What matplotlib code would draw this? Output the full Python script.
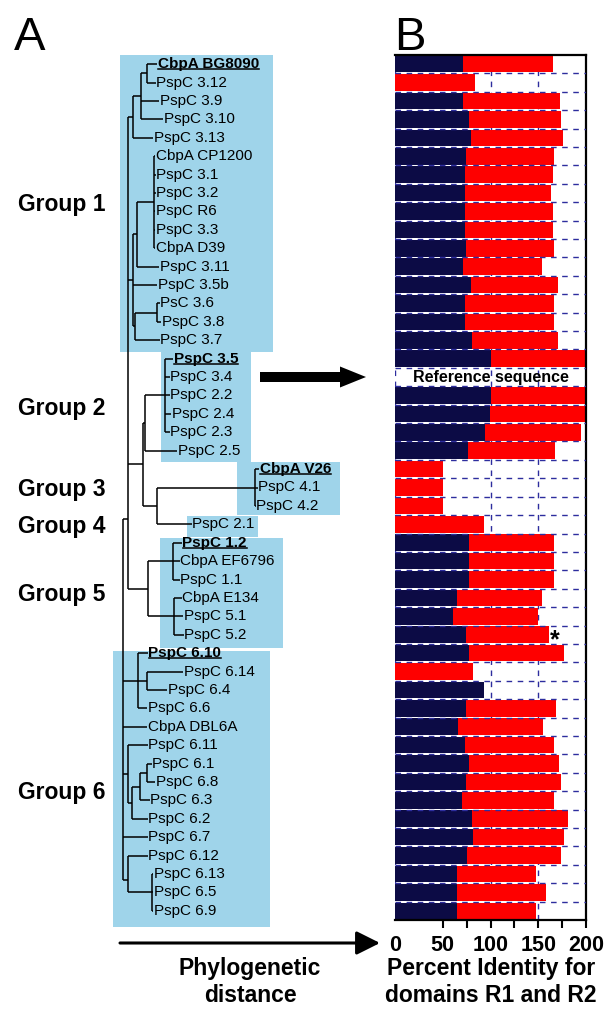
import matplotlib
matplotlib.use('Agg')
import matplotlib.pyplot as plt
import numpy as np
from matplotlib.patches import Rectangle, FancyArrow
from matplotlib.lines import Line2D

plt.rcParams['font.family'] = ['Liberation Sans', 'DejaVu Sans']

# ---------------- data ----------------
leaf_labels = [
    'CbpA BG8090', 'PspC 3.12', 'PspC 3.9', 'PspC 3.10', 'PspC 3.13', 'CbpA CP1200',
    'PspC 3.1', 'PspC 3.2', 'PspC R6', 'PspC 3.3', 'CbpA D39', 'PspC 3.11',
    'PspC 3.5b', 'PsC 3.6', 'PspC 3.8', 'PspC 3.7',
    'PspC 3.5', 'PspC 3.4', 'PspC 2.2', 'PspC 2.4', 'PspC 2.3', 'PspC 2.5',
    'CbpA V26', 'PspC 4.1', 'PspC 4.2',
    'PspC 2.1',
    'PspC 1.2', 'CbpA EF6796', 'PspC 1.1', 'CbpA E134', 'PspC 5.1', 'PspC 5.2',
    'PspC 6.10', 'PspC 6.14', 'PspC 6.4', 'PspC 6.6', 'CbpA DBL6A', 'PspC 6.11',
    'PspC 6.1', 'PspC 6.8', 'PspC 6.3', 'PspC 6.2', 'PspC 6.7', 'PspC 6.12',
    'PspC 6.13', 'PspC 6.5', 'PspC 6.9',
]
# tip positions (phylogenetic distance, arbitrary units)
leaf_tip = [
    157, 156, 159, 163, 153, 155, 156, 156, 155, 155, 155, 159, 157, 160, 161, 160,
    173, 170, 170, 171, 170, 177,
    259, 258, 256,
    192,
    182, 180, 180, 182, 183, 184,
    148, 183, 167, 147, 147, 148, 152, 155, 150, 148, 148, 148, 153, 153, 153,
]
reference_leaves = ['CbpA BG8090', 'PspC 3.5', 'CbpA V26', 'PspC 1.2', 'PspC 6.10']

# tree: (node distance, [children], optional joining row); ints are leaf indices
tree = (123, [
    (128, [
        (133, [(141, [(147, [0, 1]), 2, 3]), 4]),
        (133, [(137, [(154, [5, 6, 7, 8, 9, 10]), 11]), 12,
               (135, [(157, [13, 14]), 15])]),
        (143, [(145, [(165, [16, 17, 18, 19, 20]), 21]),
               (157, [(255, [22, 23, 24]), 25])]),
        (148, [(173, [26, 27, 28]), (174, [29, 30, 31])]),
    ], 24.7),
    (138, [32, (147, [33, 34]), 35]),
    36,
    (128, [37, (132, [(140, [(147, [38, 39]), 40]), 41])]),
    42,
    (128, [43, (152, [44, 45, 46])], 44.3),
])

group_names = ['Group 1', 'Group 2', 'Group 3', 'Group 4', 'Group 5', 'Group 6']
group_label_rows = [7.6, 18.7, 23.1, 25.1, 28.8, 39.55]
# shaded clade boxes: (x0, x1, row0, row1)
group_boxes = [(120, 273, -0.5, 15.64), (161, 251, 15.64, 21.6),
               (237, 340, 21.6, 24.5), (187, 258, 24.55, 25.7),
               (160, 283, 25.75, 31.7), (113, 270, 31.9, 46.9)]

# Percent identity: domain R1 (navy) and domain R2 (red), stacked
r1_identity = [71, 0, 71, 78, 80, 74, 73, 73, 73, 73, 74, 71, 80, 73, 73, 81,
               100, 0, 100, 99, 94, 76,
               0, 0, 0,
               0,
               77, 77, 77, 65, 61, 74,
               77, 0, 93, 74, 66, 73, 78, 74, 70, 81, 82, 75, 65, 65, 65]
r2_identity = [94, 84, 102, 96, 96, 92, 92, 90, 92, 92, 92, 83, 91, 94, 93, 90,
               100, 0, 100, 101, 101, 92,
               50, 50, 50,
               93,
               89, 89, 89, 89, 89, 87,
               100, 82, 0, 95, 89, 94, 94, 100, 97, 100, 95, 99, 83, 93, 83]
reference_row = 17
starred_row = 31
xticks_major = [0, 50, 100, 150, 200]
xticks_minor = [75, 125, 175]

# ---------------- figure ----------------
W, H = 608, 1009
fig = plt.figure(figsize=(W / 100, H / 100), dpi=100)
top_px, bot_px = 55, 920
ax_b = fig.add_axes([395 / W, 1 - bot_px / H, (586 - 395) / W, (bot_px - top_px) / H])
ax_t = fig.add_axes([0, 1 - bot_px / H, 380 / W, (bot_px - top_px) / H])
ax_o = fig.add_axes([0, 0, 1, 1])
ax_o.set_xlim(0, W); ax_o.set_ylim(H, 0); ax_o.axis('off')

navy = '#0c0b45'
red = '#fe0000'
dash_col = '#2d2d9e'
n = len(r1_identity)
rows = np.arange(n)
r1 = np.array(r1_identity, float)
r2 = np.array(r2_identity, float)

ax_b.barh(rows, r1, height=0.9, color=navy, zorder=2)
ax_b.barh(rows, r2, left=r1, height=0.9, color=red, zorder=2)
ax_b.set_xlim(0, 200)
ax_b.set_ylim(n - 0.5, -0.5)
for k in range(n - 1):
    ax_b.axhline(k + 0.5, color=dash_col, lw=1.0, ls=(0, (4, 4)), zorder=3)
for v in [0, 100, 150]:
    ax_b.axvline(v, color=dash_col, lw=1.0, ls=(0, (4, 4)), zorder=1)
ax_b.spines['left'].set_visible(False)
for s in ['top', 'right', 'bottom']:
    ax_b.spines[s].set_linewidth(1.6)
ax_b.set_yticks([])
ax_b.set_xticks(xticks_major)
ax_b.set_xticks(xticks_minor, minor=True)
ax_b.set_xticklabels([str(v) for v in xticks_major], fontsize=15.5, fontweight='bold')
ax_b.tick_params(axis='x', which='both', direction='out', length=6, width=1.5, pad=5)
ax_b.xaxis.get_major_ticks()[0].tick1line.set_visible(False)
ax_b.text(100, reference_row, 'Reference sequence', ha='center', va='center',
          fontsize=11.5, fontweight='bold', zorder=5)
ax_b.text(r1[starred_row] + r2[starred_row] + 1, starred_row + 0.3, '*', ha='left',
          va='center', fontsize=18, fontweight='bold', zorder=5)

# ---------------- tree ----------------
ax_t.set_xlim(0, 380)
ax_t.set_ylim(n - 0.5, -0.5)
ax_t.axis('off')
for (x0, x1, y0, y1) in group_boxes:
    ax_t.add_patch(Rectangle((x0, y0), x1 - x0, y1 - y0, color='#9fd4ea',
                             zorder=0, clip_on=False, lw=0))


def draw(node):
    if isinstance(node, int):
        return leaf_tip[node], node
    x, children = node[0], node[1]
    pts = [draw(c) for c in children]
    ys = [p[1] for p in pts]
    ax_t.plot([x, x], [min(ys), max(ys)], color='black', lw=1.1, zorder=2,
              solid_capstyle='butt', clip_on=False)
    for cx, cy in pts:
        ax_t.plot([x, cx], [cy, cy], color='black', lw=1.1, zorder=2,
                  solid_capstyle='butt', clip_on=False)
    yj = node[2] if len(node) > 2 else (min(ys) + max(ys)) / 2
    return x, yj


draw(tree)
bold_texts = []
for i, (lab, tip) in enumerate(zip(leaf_labels, leaf_tip)):
    isref = lab in reference_leaves
    t = ax_t.text(tip + 0.5, i, lab, fontsize=11, va='center', ha='left',
                  fontweight='bold' if isref else 'normal', zorder=3, clip_on=False)
    if isref:
        bold_texts.append(t)
for name, r in zip(group_names, group_label_rows):
    ax_t.text(18, r, name, fontsize=16.5, fontweight='bold', va='center', ha='left')

# ---------------- annotations ----------------
ax_o.text(30, 38, 'A', fontsize=34, ha='center', va='center')
ax_o.text(410, 38, 'B', fontsize=34, ha='center', va='center')
ax_o.add_patch(FancyArrow(260, 377, 106, 0, width=10, head_width=21, head_length=26,
                          length_includes_head=True, color='black', lw=0))
ax_o.annotate('', xy=(380, 943), xytext=(120, 943),
              arrowprops=dict(arrowstyle='-|>,head_length=0.72,head_width=0.36',
                              mutation_scale=20, lw=2.2, color='black',
                              shrinkA=0, shrinkB=0))
ax_o.text(250, 969, 'Phylogenetic', fontsize=16.5, fontweight='bold', ha='center', va='center')
ax_o.text(250, 996, 'distance', fontsize=16.5, fontweight='bold', ha='center', va='center')
ax_o.text(491, 969, 'Percent Identity for', fontsize=16.5, fontweight='bold', ha='center', va='center')
ax_o.text(491, 996, 'domains R1 and R2', fontsize=16.5, fontweight='bold', ha='center', va='center')

# underline reference sequences
fig.canvas.draw()
renderer = fig.canvas.get_renderer()
for t in bold_texts:
    bb = t.get_window_extent(renderer)
    yline = bb.y0 + 2.0
    fig.add_artist(Line2D([bb.x0 / W, bb.x1 / W], [yline / H, yline / H],
                          transform=fig.transFigure, color='black', lw=1.1))

fig.savefig('out.png', dpi=100)
